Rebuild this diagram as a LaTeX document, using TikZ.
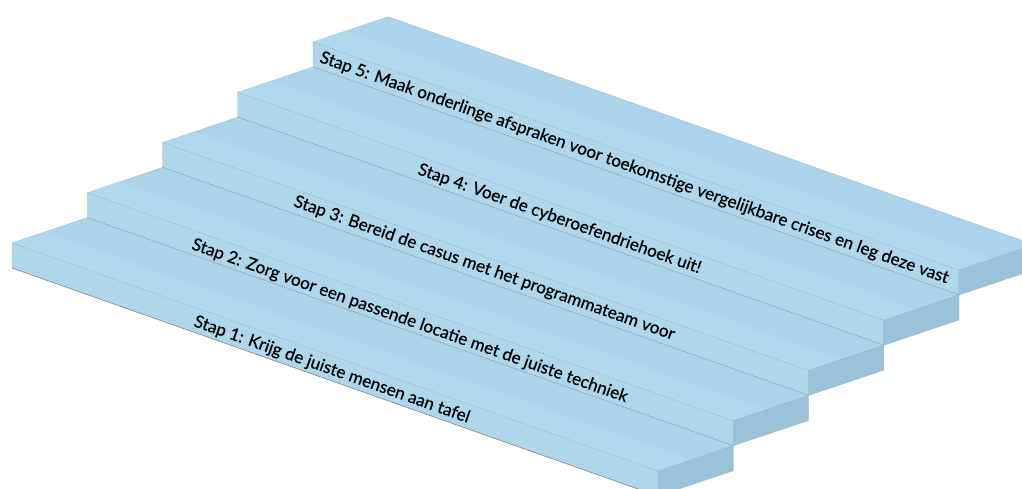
\documentclass[tikz,border=0pt]{standalone}
\usepackage{fontspec}
\usetikzlibrary{calc}
\newfontfamily\stepfont[FakeBold=0.5]{Lato}
\definecolor{topcol}{HTML}{ABD3E9}
\definecolor{bandcol}{HTML}{B1D9EE}
\definecolor{frontcol}{HTML}{AFD7EC}
\definecolor{sidecol}{HTML}{9CC2D9}
\definecolor{edgecol}{HTML}{9DB3C2}
\definecolor{linecol}{HTML}{8C8C8C}
\tikzset{
  steptext/.style={inner sep=0pt, outer sep=0pt, anchor=north west, rotate=-19.44,
    font=\stepfont\fontsize{17.1}{19}\selectfont, text=black},
  face/.style={draw=edgecol, line width=0.3pt, line join=round},
  riserline/.style={draw=linecol, line width=0.6pt}
}
\begin{document}
\begin{tikzpicture}[x=1pt,y=-1pt]
\useasboundingbox (0,0) rectangle (1022,488);
\clip (0,0) rectangle (1022,488);
\foreach \k in {5,4,3,2,1}{
  \coordinate (P\k) at ({12+75.25*(\k-1)},{243-50.25*(\k-1)});
  % top face
  \fill[topcol, face] (P\k) -- ++(646,228) -- ++(75.25,-25.25) -- ++(-646,-228) -- cycle;
  \fill[bandcol] (P\k) -- ++(646,228) -- ++(33,-11.1) -- ++(-646,-228) -- cycle;
  % front face
  \fill[frontcol, face] (P\k) -- ++(646,228) -- ++(0,25) -- ++(-646,-228) -- cycle;
  % side face
  \fill[sidecol, face] ($(P\k)+(646,228)$) -- ++(75.25,-25.25) -- ++(0,25) -- ++(-75.25,25.25) -- cycle;
  % riser bottom line
  \draw[riserline] ($(P\k)+(0,25)$) -- ++(646,228);
}
\node[steptext] (t5) at (323,50) {Stap 5: Maak onderlinge afspraken voor toekomstige vergelijkbare crises en leg deze vast};
\node[steptext] (t4) at (421,162) {Stap 4: Voer de cyberoefendriehoek uit!};
\node[steptext] (t3) at (297,194) {Stap 3: Bereid de casus met het programmateam voor};
\node[steptext] (t2) at (195,237) {Stap 2: Zorg voor een passende locatie met de juiste techniek};
\node[steptext] (t1) at (197,314) {Stap 1: Krijg de juiste mensen aan tafel};
\end{tikzpicture}
\end{document}
